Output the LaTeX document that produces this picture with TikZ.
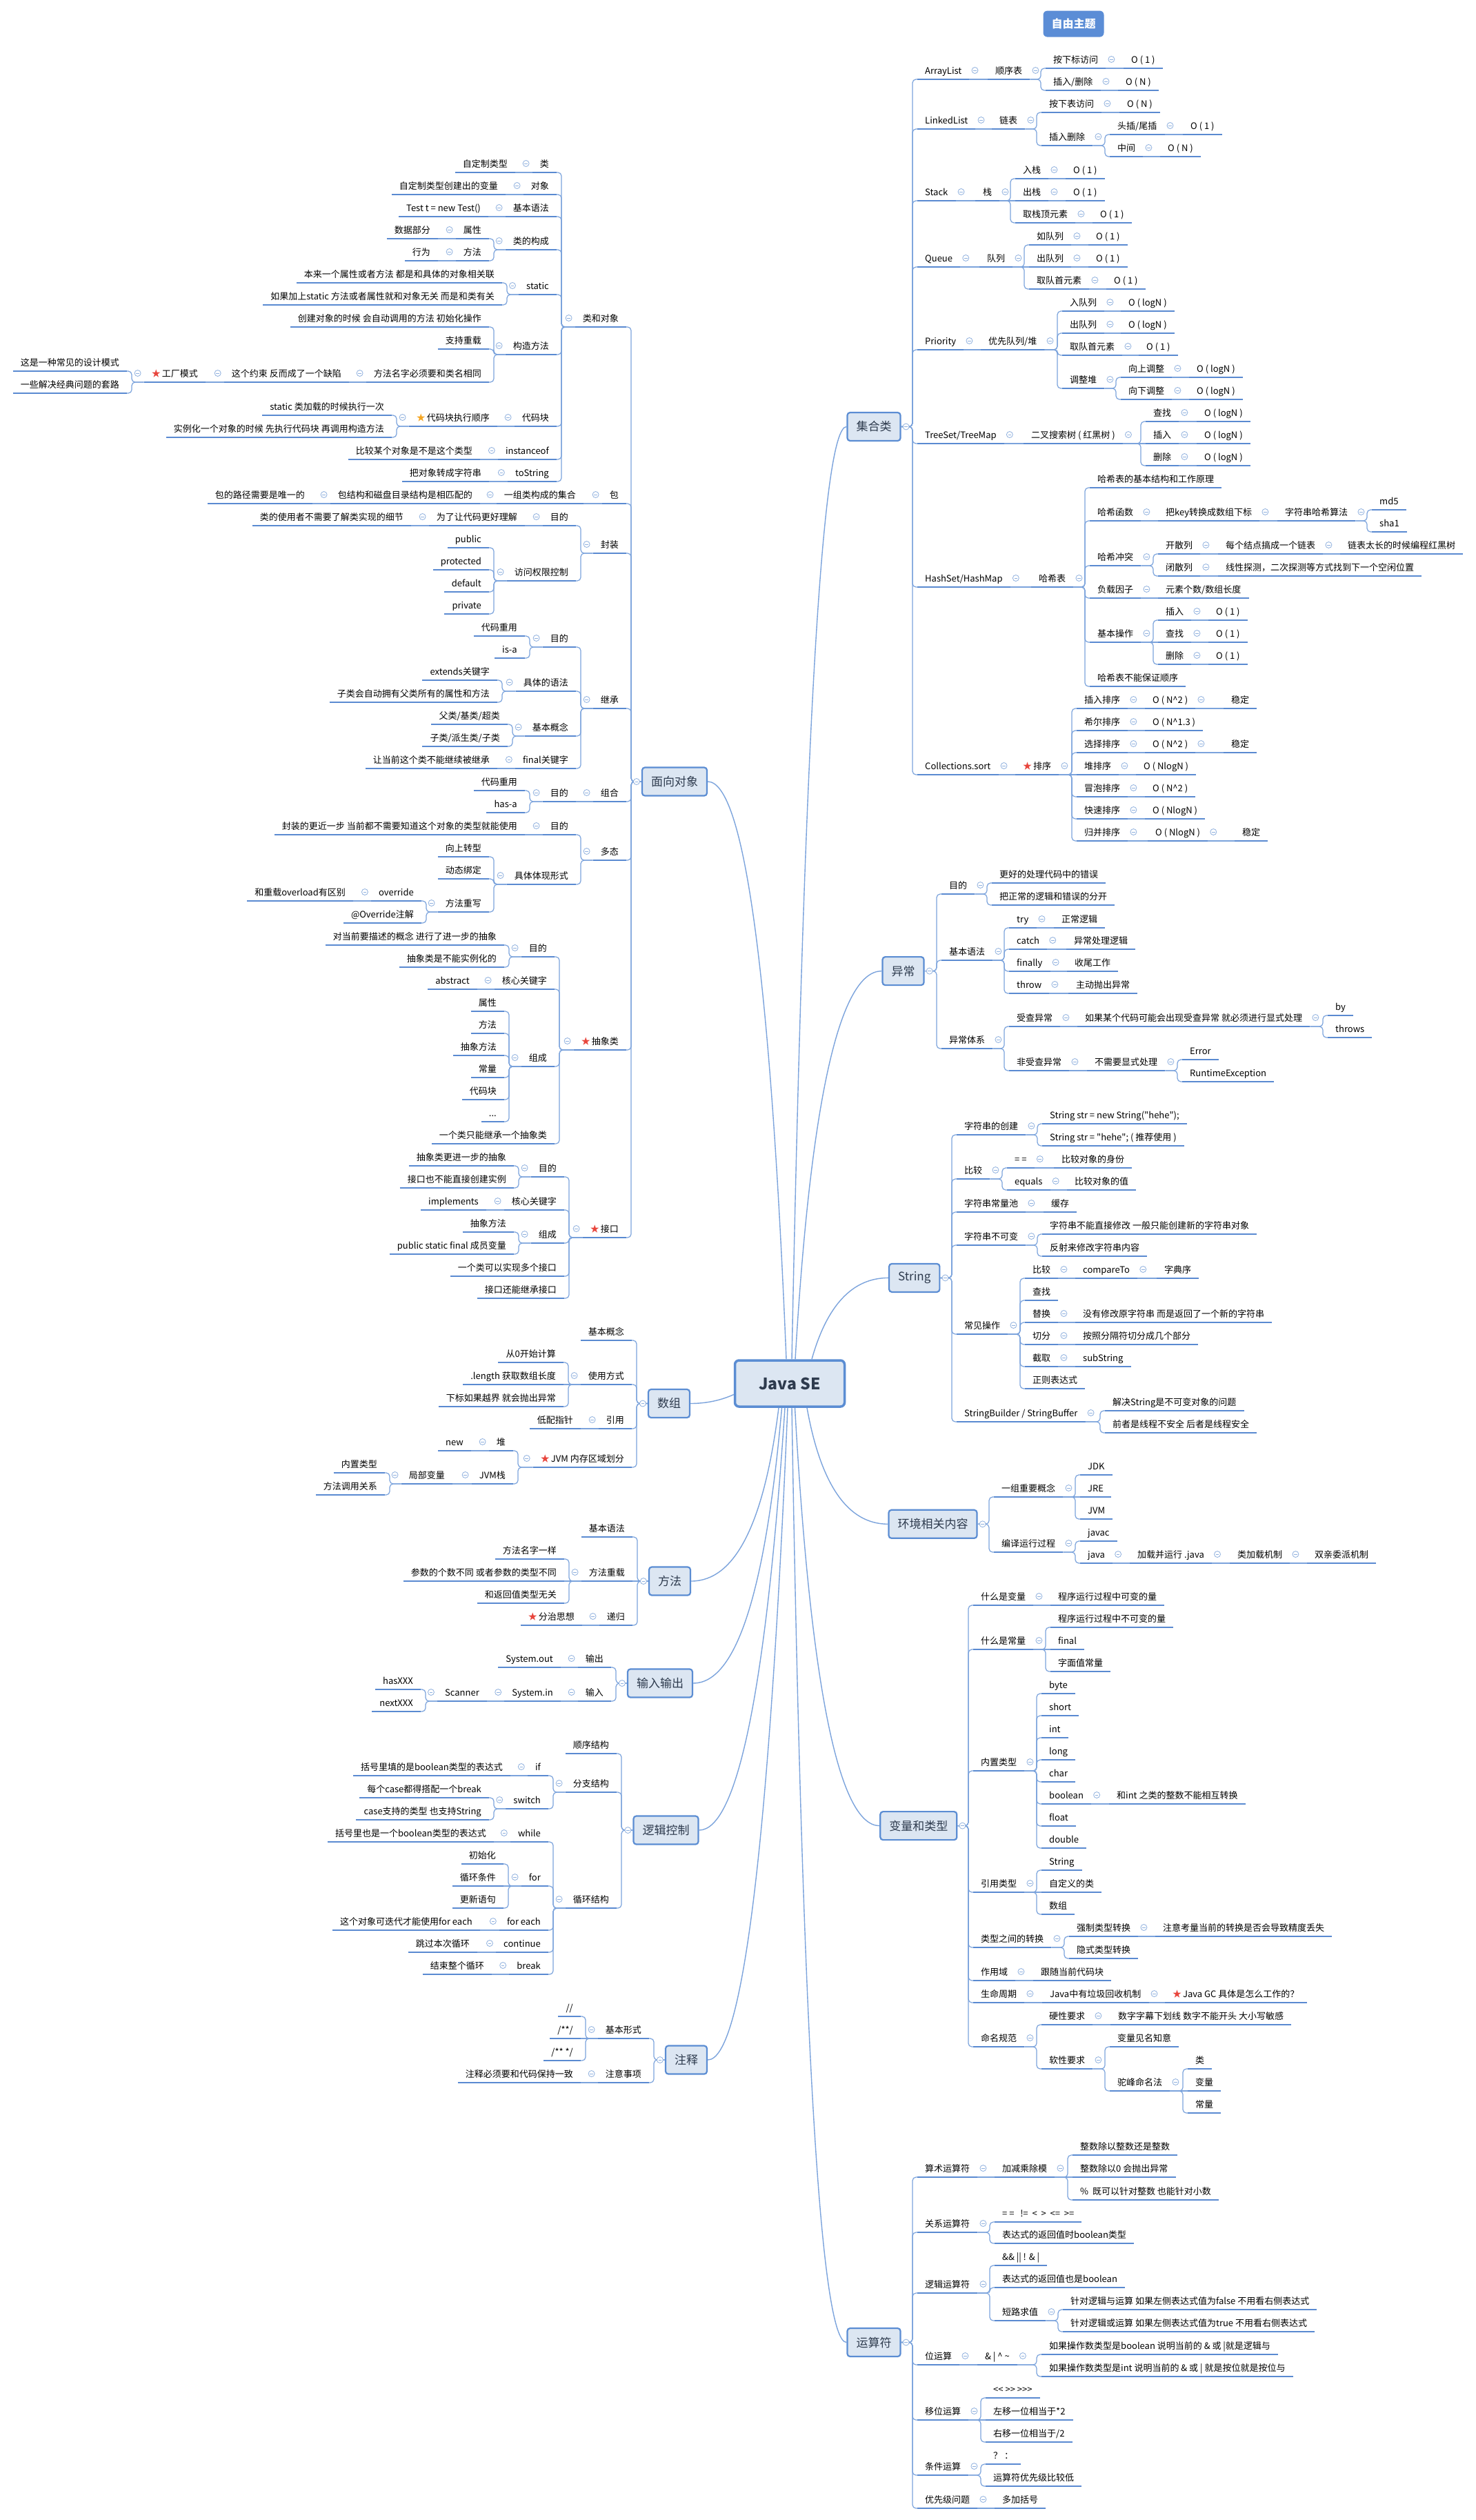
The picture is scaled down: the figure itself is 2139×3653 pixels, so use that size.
\documentclass[tikz,border=0pt]{standalone}
\usepackage{fontspec}
\setmainfont{Noto Sans CJK SC}[Ligatures=TeXOff]

\newcommand{\hot}{{\color{starRed}★}\hspace{2pt}}
\newcommand{\warm}{{\color{starOrange}★}\hspace{2pt}}

\begin{document}
\begin{tikzpicture}[x=1pt, y=-1pt,
    leaf/.style={font=\fontsize{13}{15}\selectfont, inner xsep=11pt, inner ysep=4.5pt,
        text height=10pt, text depth=3pt,
        append after command={(\tikzlastnode.south west) edge[bar] (\tikzlastnode.south east)}},
    rt/.style={leaf, anchor=south west},
    lt/.style={leaf, anchor=south east},
    bar/.style={draw=barColour, line width=2.5pt},
    topic/.style={draw=boxBorder, line width=2.2pt, fill=boxFill, rounded corners=4pt, text=boxText,
        font=\fontsize{17}{20}\selectfont, inner xsep=13pt, minimum height=41pt},
    root/.style={draw=boxBorder, line width=3.5pt, fill=boxFill, rounded corners=6pt, text=boxText,
        font=\fontsize{23}{28}\selectfont\bfseries, minimum width=159pt, minimum height=67pt},
    free/.style={fill=freeFill, rounded corners=6pt, text=white,
        font=\fontsize{16}{20}\selectfont\bfseries, inner xsep=12pt, minimum height=38pt},
    twig/.style={draw=lineColour, line width=1.2pt, rounded corners=5pt},
    trunk/.style={draw=lineColour, line width=1.4pt},
    fanR/.style={to path={-| ([xshift=-7pt]\tikztotarget) -- (\tikztotarget)}},
    fanL/.style={to path={-| ([xshift=7pt]\tikztotarget) -- (\tikztotarget)}},
    fold/.pic={\draw[foldColour, fill=white, line width=0.8pt] (0,0) circle (4.5pt);
        \draw[foldColour, line width=0.8pt] (-2.3pt,0) -- (2.3pt,0);}
]
    % Define colours
    \definecolor{barColour}{HTML}{5A8AD1}
    \definecolor{lineColour}{HTML}{7BA3DC}
    \definecolor{boxFill}{HTML}{DCE6F2}
    \definecolor{boxBorder}{HTML}{5B8DD3}
    \definecolor{boxText}{HTML}{2E3B4E}
    \definecolor{freeFill}{HTML}{5B8DD6}
    \definecolor{foldColour}{HTML}{8FB0DE}
    \definecolor{starRed}{HTML}{E8453C}
    \definecolor{starOrange}{HTML}{F5A623}

    % Page
    \useasboundingbox[fill=white] (0,0) rectangle (2139,3653);

    % Centre and floating topic
    \node[root] (java) at (1145,2005.5) {Java SE};
    \node[free] (free) at (1556.5,34.6) {自由主题};

    % ---------------- left side ----------------
    % 面向对象
    \node[topic] (oop) at (978,1133) {面向对象};
    \node[lt] (oopA) at (908,474) {类和对象};
    \node[lt] (oopB) at (908,730) {包};
    \node[lt] (oopC) at (908,802) {封装};
    \node[lt] (oopD) at (908,1027) {继承};
    \node[lt] (oopE) at (908,1162) {组合};
    \node[lt] (oopF) at (908,1247) {多态};
    \node[lt] (oopG) at (908,1522) {\hot 抽象类};
    \node[lt] (oopH) at (908,1794) {\hot 接口};

    \node[lt] (oopA1) at (807,250) {类};
    \node[lt] (oopA1a) at (747,250) {自定制类型};
    \node[lt] (oopA2) at (807,282) {对象};
    \node[lt] (oopA2a) at (733,282) {自定制类型创建出的变量};
    \node[lt] (oopA3) at (807,314) {基本语法};
    \node[lt] (oopA3a) at (708,314) {Test t = new Test()};
    \node[lt] (oopA4) at (807,362) {类的构成};
    \node[lt] (oopA4a) at (709,346) {属性};
    \node[lt] (oopA4a1) at (635,346) {数据部分};
    \node[lt] (oopA4b) at (709,378) {方法};
    \node[lt] (oopA4b1) at (635,378) {行为};
    \node[lt] (oopA5) at (807,427) {static};
    \node[lt] (oopA5a) at (728,410) {本来一个属性或者方法 都是和具体的对象相关联};
    \node[lt] (oopA5b) at (728,442) {如果加上static 方法或者属性就和对象无关 而是和类有关};
    \node[lt] (oopA6) at (807,514) {构造方法};
    \node[lt] (oopA6a) at (709,474) {创建对象的时候 会自动调用的方法 初始化操作};
    \node[lt] (oopA6b) at (709,506) {支持重载};
    \node[lt] (oopA6c) at (709,554) {方法名字必须要和类名相同};
    \node[lt] (oopA6d) at (506,554) {这个约束 反而成了一个缺陷};
    \node[lt] (oopA6e) at (298,554) {\hot 工厂模式};
    \node[lt] (oopA6e1) at (184,538) {这是一种常见的设计模式};
    \node[lt] (oopA6e2) at (184,570) {一些解决经典问题的套路};
    \node[lt] (oopA7) at (807,618) {代码块};
    \node[lt] (oopA7a) at (721,618) {\warm 代码块执行顺序};
    \node[lt] (oopA7a1) at (568,602) {static 类加载的时候执行一次};
    \node[lt] (oopA7a2) at (568,634) {实例化一个对象的时候 先执行代码块 再调用构造方法};
    \node[lt] (oopA8) at (807,666) {instanceof};
    \node[lt] (oopA8a) at (696,666) {比较某个对象是不是这个类型};
    \node[lt] (oopA9) at (807,698) {toString};
    \node[lt] (oopA9a) at (709,698) {把对象转成字符串};

    \node[lt] (oopB1) at (846,730) {一组类构成的集合};
    \node[lt] (oopB2) at (696,730) {包结构和磁盘目录结构是相匹配的};
    \node[lt] (oopB3) at (453,730) {包的路径需要是唯一的};

    \node[lt] (oopC1) at (835,762) {目的};
    \node[lt] (oopC1a) at (761,762) {为了让代码更好理解};
    \node[lt] (oopC1b) at (596,762) {类的使用者不需要了解类实现的细节};
    \node[lt] (oopC2) at (835,842) {访问权限控制};
    \node[lt] (oopC2a) at (709,794) {public};
    \node[lt] (oopC2b) at (709,826) {protected};
    \node[lt] (oopC2c) at (709,858) {default};
    \node[lt] (oopC2d) at (709,890) {private};

    \node[lt] (oopD1) at (835,938) {目的};
    \node[lt] (oopD1a) at (761,922) {代码重用};
    \node[lt] (oopD1b) at (761,954) {is-a};
    \node[lt] (oopD2) at (835,1002) {具体的语法};
    \node[lt] (oopD2a) at (721,986) {extends关键字};
    \node[lt] (oopD2b) at (721,1018) {子类会自动拥有父类所有的属性和方法};
    \node[lt] (oopD3) at (835,1067) {基本概念};
    \node[lt] (oopD3a) at (736,1050) {父类/基类/超类};
    \node[lt] (oopD3b) at (736,1082) {子类/派生类/子类};
    \node[lt] (oopD4) at (835,1114) {final关键字};
    \node[lt] (oopD4a) at (721,1114) {让当前这个类不能继续被继承};

    \node[lt] (oopE1) at (835,1162) {目的};
    \node[lt] (oopE1a) at (761,1146) {代码重用};
    \node[lt] (oopE1b) at (761,1178) {has-a};

    \node[lt] (oopF1) at (835,1210) {目的};
    \node[lt] (oopF1a) at (761,1210) {封装的更近一步 当前都不需要知道这个对象的类型就能使用};
    \node[lt] (oopF2) at (835,1282) {具体体现形式};
    \node[lt] (oopF2a) at (709,1242) {向上转型};
    \node[lt] (oopF2b) at (709,1274) {动态绑定};
    \node[lt] (oopF2c) at (709,1322) {方法重写};
    \node[lt] (oopF2c1) at (611,1306) {override};
    \node[lt] (oopF2c1a) at (512,1306) {和重载overload有区别};
    \node[lt] (oopF2c2) at (611,1338) {@Override注解};

    \node[lt] (oopG1) at (804,1387) {目的};
    \node[lt] (oopG1a) at (731,1370) {对当前要描述的概念 进行了进一步的抽象};
    \node[lt] (oopG1b) at (731,1402) {抽象类是不能实例化的};
    \node[lt] (oopG2) at (804,1434) {核心关键字};
    \node[lt] (oopG2a) at (692,1434) {abstract};
    \node[lt] (oopG3) at (804,1546) {组成};
    \node[lt] (oopG3a) at (731,1466) {属性};
    \node[lt] (oopG3b) at (731,1498) {方法};
    \node[lt] (oopG3c) at (731,1530) {抽象方法};
    \node[lt] (oopG3d) at (731,1562) {常量};
    \node[lt] (oopG3e) at (731,1594) {代码块};
    \node[lt] (oopG3f) at (731,1626) {...};
    \node[lt] (oopG4) at (804,1658) {一个类只能继承一个抽象类};

    \node[lt] (oopH1) at (818,1706) {目的};
    \node[lt] (oopH1a) at (745,1690) {抽象类更进一步的抽象};
    \node[lt] (oopH1b) at (745,1722) {接口也不能直接创建实例};
    \node[lt] (oopH2) at (818,1754) {核心关键字};
    \node[lt] (oopH2a) at (705,1754) {implements};
    \node[lt] (oopH3) at (818,1802) {组成};
    \node[lt] (oopH3a) at (745,1786) {抽象方法};
    \node[lt] (oopH3b) at (745,1818) {public static final 成员变量};
    \node[lt] (oopH4) at (818,1850) {一个类可以实现多个接口};
    \node[lt] (oopH5) at (818,1882) {接口还能继承接口};

    % 数组
    \node[topic] (arr) at (970,2034.5) {数组};
    \node[lt] (arrA) at (916,1943) {基本概念};
    \node[lt] (arrB) at (916,2007) {使用方式};
    \node[lt] (arrB1) at (817,1975) {从0开始计算};
    \node[lt] (arrB2) at (817,2007) {.length 获取数组长度};
    \node[lt] (arrB3) at (817,2039) {下标如果越界 就会抛出异常};
    \node[lt] (arrC) at (916,2071) {引用};
    \node[lt] (arrC1) at (842,2071) {低配指针};
    \node[lt] (arrD) at (916,2127) {\hot JVM 内存区域划分};
    \node[lt] (arrD1) at (744,2103) {堆};
    \node[lt] (arrD1a) at (683,2103) {new};
    \node[lt] (arrD2) at (744,2151) {JVM栈};
    \node[lt] (arrD2a) at (656,2151) {局部变量};
    \node[lt] (arrD2a1) at (558,2135) {内置类型};
    \node[lt] (arrD2a2) at (558,2167) {方法调用关系};

    % 方法
    \node[topic] (meth) at (971,2292) {方法};
    \node[lt] (methA) at (917,2228) {基本语法};
    \node[lt] (methB) at (917,2292) {方法重载};
    \node[lt] (methB1) at (818,2260) {方法名字一样};
    \node[lt] (methB2) at (818,2292) {参数的个数不同 或者参数的类型不同};
    \node[lt] (methB3) at (818,2324) {和返回值类型无关};
    \node[lt] (methC) at (917,2356) {递归};
    \node[lt] (methC1) at (844,2356) {\hot 分治思想};

    % 输入输出
    \node[topic] (io) at (957,2440) {输入输出};
    \node[lt] (ioA) at (886,2417) {输出};
    \node[lt] (ioA1) at (813,2417) {System.out};
    \node[lt] (ioB) at (886,2466) {输入};
    \node[lt] (ioB1) at (813,2466) {System.in};
    \node[lt] (ioB2) at (706,2466) {Scanner};
    \node[lt] (ioB2a) at (610,2449) {hasXXX};
    \node[lt] (ioB2b) at (610,2481) {nextXXX};

    % 逻辑控制
    \node[topic] (ctrl) at (965.5,2653) {逻辑控制};
    \node[lt] (ctrlA) at (894,2542) {顺序结构};
    \node[lt] (ctrlB) at (894,2598) {分支结构};
    \node[lt] (ctrlB1) at (795,2574) {if};
    \node[lt] (ctrlB1a) at (740,2574) {括号里填的是boolean类型的表达式};
    \node[lt] (ctrlB2) at (795,2622) {switch};
    \node[lt] (ctrlB2a) at (709,2606) {每个case都得搭配一个break};
    \node[lt] (ctrlB2b) at (709,2638) {case支持的类型 也支持String};
    \node[lt] (ctrlC) at (894,2766) {循环结构};
    \node[lt] (ctrlC1) at (795,2670) {while};
    \node[lt] (ctrlC1a) at (716,2670) {括号里也是一个boolean类型的表达式};
    \node[lt] (ctrlC2) at (795,2734) {for};
    \node[lt] (ctrlC2a) at (730,2702) {初始化};
    \node[lt] (ctrlC2b) at (730,2734) {循环条件};
    \node[lt] (ctrlC2c) at (730,2766) {更新语句};
    \node[lt] (ctrlC3) at (795,2798) {for each};
    \node[lt] (ctrlC3a) at (696,2798) {这个对象可迭代才能使用for each};
    \node[lt] (ctrlC4) at (795,2830) {continue};
    \node[lt] (ctrlC4a) at (692,2830) {跳过本次循环};
    \node[lt] (ctrlC5) at (795,2862) {break};
    \node[lt] (ctrlC5a) at (713,2862) {结束整个循环};

    % 注释
    \node[topic] (cmt) at (995,2986) {注释};
    \node[lt] (cmtA) at (941,2955) {基本形式};
    \node[lt] (cmtA1) at (842,2923) {//};
    \node[lt] (cmtA2) at (842,2955) {/**/};
    \node[lt] (cmtA3) at (842,2987) {/** */};
    \node[lt] (cmtB) at (941,3019) {注意事项};
    \node[lt] (cmtB1) at (842,3019) {注释必须要和代码保持一致};

    % ---------------- right side ----------------
    % 集合类
    \node[topic] (coll) at (1267,618.5) {集合类};
    \node[rt] (collA) at (1330,115) {ArrayList};
    \node[rt] (collA1) at (1432,115) {顺序表};
    \node[rt] (collA1a) at (1516,99) {按下标访问};
    \node[rt] (collA1a1) at (1629,99) {O ( 1 )};
    \node[rt] (collA1b) at (1516,131) {插入/删除};
    \node[rt] (collA1b1) at (1621,131) {O ( N )};
    \node[rt] (collB) at (1330,187) {LinkedList};
    \node[rt] (collB1) at (1438,187) {链表};
    \node[rt] (collB1a) at (1510,163) {按下表访问};
    \node[rt] (collB1a1) at (1623,163) {O ( N )};
    \node[rt] (collB1b) at (1510,211) {插入删除};
    \node[rt] (collB1b1) at (1609,195) {头插/尾插};
    \node[rt] (collB1b1a) at (1715,195) {O ( 1 )};
    \node[rt] (collB1b2) at (1609,227) {中间};
    \node[rt] (collB1b2a) at (1682,227) {O ( N )};
    \node[rt] (collC) at (1330,291) {Stack};
    \node[rt] (collC1) at (1414,291) {栈};
    \node[rt] (collC1a) at (1472,259) {入栈};
    \node[rt] (collC1a1) at (1545,259) {O ( 1 )};
    \node[rt] (collC1b) at (1472,291) {出栈};
    \node[rt] (collC1b1) at (1545,291) {O ( 1 )};
    \node[rt] (collC1c) at (1472,323) {取栈顶元素};
    \node[rt] (collC1c1) at (1584,323) {O ( 1 )};
    \node[rt] (collD) at (1330,387) {Queue};
    \node[rt] (collD1) at (1420,387) {队列};
    \node[rt] (collD1a) at (1492,355) {如队列};
    \node[rt] (collD1a1) at (1578,355) {O ( 1 )};
    \node[rt] (collD1b) at (1492,387) {出队列};
    \node[rt] (collD1b1) at (1578,387) {O ( 1 )};
    \node[rt] (collD1c) at (1492,419) {取队首元素};
    \node[rt] (collD1c1) at (1604,419) {O ( 1 )};
    \node[rt] (collE) at (1330,507) {Priority};
    \node[rt] (collE1) at (1422,507) {优先队列/堆};
    \node[rt] (collE1a) at (1540,451) {入队列};
    \node[rt] (collE1a1) at (1625,451) {O ( logN )};
    \node[rt] (collE1b) at (1540,483) {出队列};
    \node[rt] (collE1b1) at (1625,483) {O ( logN )};
    \node[rt] (collE1c) at (1540,515) {取队首元素};
    \node[rt] (collE1c1) at (1651,515) {O ( 1 )};
    \node[rt] (collE1d) at (1540,563) {调整堆};
    \node[rt] (collE1d1) at (1625,547) {向上调整};
    \node[rt] (collE1d1a) at (1724,547) {O ( logN )};
    \node[rt] (collE1d2) at (1625,579) {向下调整};
    \node[rt] (collE1d2a) at (1724,579) {O ( logN )};
    \node[rt] (collF) at (1330,643) {TreeSet/TreeMap};
    \node[rt] (collF1) at (1484,643) {二叉搜索树 ( 红黑树 )};
    \node[rt] (collF1a) at (1661,611) {查找};
    \node[rt] (collF1a1) at (1735,611) {O ( logN )};
    \node[rt] (collF1b) at (1661,643) {插入};
    \node[rt] (collF1b1) at (1735,643) {O ( logN )};
    \node[rt] (collF1c) at (1661,675) {删除};
    \node[rt] (collF1c1) at (1735,675) {O ( logN )};
    \node[rt] (collG) at (1330,851) {HashSet/HashMap};
    \node[rt] (collG1) at (1495,851) {哈希表};
    \node[rt] (collG1a) at (1580,707) {哈希表的基本结构和工作原理};
    \node[rt] (collG1b) at (1580,755) {哈希函数};
    \node[rt] (collG1b1) at (1679,755) {把key转换成数组下标};
    \node[rt] (collG1b2) at (1852,755) {字符串哈希算法};
    \node[rt] (collG1b2a) at (1989,739) {md5};
    \node[rt] (collG1b2b) at (1989,771) {sha1};
    \node[rt] (collG1c) at (1580,820) {哈希冲突};
    \node[rt] (collG1c1) at (1679,803) {开散列};
    \node[rt] (collG1c1a) at (1766,803) {每个结点搞成一个链表};
    \node[rt] (collG1c1b) at (1943,803) {链表太长的时候编程红黑树};
    \node[rt] (collG1c2) at (1679,835) {闭散列};
    \node[rt] (collG1c2a) at (1766,835) {线性探测，二次探测等方式找到下一个空闲位置};
    \node[rt] (collG1d) at (1580,867) {负载因子};
    \node[rt] (collG1d1) at (1679,867) {元素个数/数组长度};
    \node[rt] (collG1e) at (1580,931) {基本操作};
    \node[rt] (collG1e1) at (1679,899) {插入};
    \node[rt] (collG1e1a) at (1752,899) {O ( 1 )};
    \node[rt] (collG1e2) at (1679,931) {查找};
    \node[rt] (collG1e2a) at (1752,931) {O ( 1 )};
    \node[rt] (collG1e3) at (1679,963) {删除};
    \node[rt] (collG1e3a) at (1752,963) {O ( 1 )};
    \node[rt] (collG1f) at (1580,995) {哈希表不能保证顺序};
    \node[rt] (collH) at (1330,1123) {Collections.sort};
    \node[rt] (collH1) at (1472,1123) {\hot 排序};
    \node[rt] (collH1a) at (1561,1027) {插入排序};
    \node[rt] (collH1a1) at (1660,1027) {O ( N\textasciicircum 2 )};
    \node[rt] (collH1a2) at (1774,1027) {稳定};
    \node[rt] (collH1b) at (1561,1059) {希尔排序};
    \node[rt] (collH1b1) at (1660,1059) {O ( N\textasciicircum 1.3 )};
    \node[rt] (collH1c) at (1561,1091) {选择排序};
    \node[rt] (collH1c1) at (1660,1091) {O ( N\textasciicircum 2 )};
    \node[rt] (collH1c2) at (1774,1091) {稳定};
    \node[rt] (collH1d) at (1561,1123) {堆排序};
    \node[rt] (collH1d1) at (1647,1123) {O ( NlogN )};
    \node[rt] (collH1e) at (1561,1155) {冒泡排序};
    \node[rt] (collH1e1) at (1660,1155) {O ( N\textasciicircum 2 )};
    \node[rt] (collH1f) at (1561,1187) {快速排序};
    \node[rt] (collH1f1) at (1660,1187) {O ( NlogN )};
    \node[rt] (collH1g) at (1561,1219) {归并排序};
    \node[rt] (collH1g1) at (1664,1219) {O ( NlogN )};
    \node[rt] (collH1g2) at (1790,1219) {稳定};

    % 异常
    \node[topic] (exc) at (1309.5,1407.6) {异常};
    \node[rt] (excA) at (1365,1296) {目的};
    \node[rt] (excA1) at (1438,1280) {更好的处理代码中的错误};
    \node[rt] (excA2) at (1438,1312) {把正常的逻辑和错误的分开};
    \node[rt] (excB) at (1365,1392) {基本语法};
    \node[rt] (excB1) at (1463,1345) {try};
    \node[rt] (excB1a) at (1528,1345) {正常逻辑};
    \node[rt] (excB2) at (1463,1376) {catch};
    \node[rt] (excB2a) at (1546,1376) {异常处理逻辑};
    \node[rt] (excB3) at (1463,1408) {finally};
    \node[rt] (excB3a) at (1547,1408) {收尾工作};
    \node[rt] (excB4) at (1463,1440) {throw};
    \node[rt] (excB4a) at (1549,1440) {主动抛出异常};
    \node[rt] (excC) at (1365,1520) {异常体系};
    \node[rt] (excC1) at (1463,1488) {受查异常};
    \node[rt] (excC1a) at (1562,1488) {如果某个代码可能会出现受查异常 就必须进行显式处理};
    \node[rt] (excC1a1) at (1925,1472) {by};
    \node[rt] (excC1a2) at (1925,1504) {throws};
    \node[rt] (excC2) at (1463,1552) {非受查异常};
    \node[rt] (excC2a) at (1576,1552) {不需要显式处理};
    \node[rt] (excC2a1) at (1714,1536) {Error};
    \node[rt] (excC2a2) at (1714,1568) {RuntimeException};

    % String
    \node[topic] (str) at (1325.7,1852.4) {String};
    \node[rt] (strA) at (1387,1645) {字符串的创建};
    \node[rt] (strA1) at (1511,1629) {String str = new String("hehe");};
    \node[rt] (strA2) at (1511,1661) {String str = "hehe"; ( 推荐使用 )};
    \node[rt] (strB) at (1387,1709) {比较};
    \node[rt] (strB1) at (1460,1693) {= =};
    \node[rt] (strB1a) at (1528,1693) {比较对象的身份};
    \node[rt] (strB2) at (1460,1725) {equals};
    \node[rt] (strB2a) at (1547,1725) {比较对象的值};
    \node[rt] (strC) at (1387,1757) {字符串常量池};
    \node[rt] (strC1) at (1513,1757) {缓存};
    \node[rt] (strD) at (1387,1805) {字符串不可变};
    \node[rt] (strD1) at (1511,1789) {字符串不能直接修改 一般只能创建新的字符串对象};
    \node[rt] (strD2) at (1511,1821) {反射来修改字符串内容};
    \node[rt] (strE) at (1387,1934) {常见操作};
    \node[rt] (strE1) at (1486,1853) {比较};
    \node[rt] (strE1a) at (1559,1853) {compareTo};
    \node[rt] (strE1b) at (1677,1853) {字典序};
    \node[rt] (strE2) at (1486,1885) {查找};
    \node[rt] (strE3) at (1486,1917) {替换};
    \node[rt] (strE3a) at (1559,1917) {没有修改原字符串 而是返回了一个新的字符串};
    \node[rt] (strE4) at (1486,1949) {切分};
    \node[rt] (strE4a) at (1559,1949) {按照分隔符切分成几个部分};
    \node[rt] (strE5) at (1486,1981) {截取};
    \node[rt] (strE5a) at (1559,1981) {subString};
    \node[rt] (strE6) at (1486,2013) {正则表达式};
    \node[rt] (strF) at (1387,2061) {StringBuilder / StringBuffer};
    \node[rt] (strF1) at (1602,2045) {解决String是不可变对象的问题};
    \node[rt] (strF2) at (1602,2077) {前者是线程不安全 后者是线程安全};

    % 环境相关内容
    \node[topic] (env) at (1352.5,2209.3) {环境相关内容};
    \node[rt] (envA) at (1441,2170) {一组重要概念};
    \node[rt] (envA1) at (1566,2138) {JDK};
    \node[rt] (envA2) at (1566,2170) {JRE};
    \node[rt] (envA3) at (1566,2202) {JVM};
    \node[rt] (envB) at (1441,2250) {编译运行过程};
    \node[rt] (envB1) at (1566,2234) {javac};
    \node[rt] (envB2) at (1566,2266) {java};
    \node[rt] (envB2a) at (1638,2266) {加载并运行 .java};
    \node[rt] (envB2b) at (1783,2266) {类加载机制};
    \node[rt] (envB2c) at (1895,2266) {双亲委派机制};

    % 变量和类型
    \node[topic] (var) at (1331.8,2646.6) {变量和类型};
    \node[rt] (varA) at (1411,2327) {什么是变量};
    \node[rt] (varA1) at (1523,2327) {程序运行过程中可变的量};
    \node[rt] (varB) at (1411,2391) {什么是常量};
    \node[rt] (varB1) at (1523,2359) {程序运行过程中不可变的量};
    \node[rt] (varB2) at (1523,2391) {final};
    \node[rt] (varB3) at (1523,2423) {字面值常量};
    \node[rt] (varC) at (1411,2567) {内置类型};
    \node[rt] (varC1) at (1510,2455) {byte};
    \node[rt] (varC2) at (1510,2487) {short};
    \node[rt] (varC3) at (1510,2519) {int};
    \node[rt] (varC4) at (1510,2551) {long};
    \node[rt] (varC5) at (1510,2583) {char};
    \node[rt] (varC6) at (1510,2615) {boolean};
    \node[rt] (varC6a) at (1608,2615) {和int 之类的整数不能相互转换};
    \node[rt] (varC7) at (1510,2647) {float};
    \node[rt] (varC8) at (1510,2679) {double};
    \node[rt] (varD) at (1411,2743) {引用类型};
    \node[rt] (varD1) at (1510,2711) {String};
    \node[rt] (varD2) at (1510,2743) {自定义的类};
    \node[rt] (varD3) at (1510,2775) {数组};
    \node[rt] (varE) at (1411,2823) {类型之间的转换};
    \node[rt] (varE1) at (1550,2807) {强制类型转换};
    \node[rt] (varE1a) at (1675,2807) {注意考量当前的转换是否会导致精度丢失};
    \node[rt] (varE2) at (1550,2839) {隐式类型转换};
    \node[rt] (varF) at (1411,2871) {作用域};
    \node[rt] (varF1) at (1498,2871) {跟随当前代码块};
    \node[rt] (varG) at (1411,2903) {生命周期};
    \node[rt] (varG1) at (1511,2903) {Java中有垃圾回收机制};
    \node[rt] (varG2) at (1689,2903) {\hot Java GC 具体是怎么工作的？};
    \node[rt] (varH) at (1411,2967) {命名规范};
    \node[rt] (varH1) at (1510,2935) {硬性要求};
    \node[rt] (varH1a) at (1610,2935) {数字字幕下划线 数字不能开头 大小写敏感};
    \node[rt] (varH2) at (1510,2999) {软性要求};
    \node[rt] (varH2a) at (1609,2967) {变量见名知意};
    \node[rt] (varH2b) at (1609,3031) {驼峰命名法};
    \node[rt] (varH2b1) at (1722,2999) {类};
    \node[rt] (varH2b2) at (1722,3031) {变量};
    \node[rt] (varH2b3) at (1722,3063) {常量};

    % 运算符
    \node[topic] (op) at (1267,3395.5) {运算符};
    \node[rt] (opA) at (1330,3156) {算术运算符};
    \node[rt] (opA1) at (1442,3156) {加减乘除模};
    \node[rt] (opA1a) at (1555,3124) {整数除以整数还是整数};
    \node[rt] (opA1b) at (1555,3156) {整数除以0 会抛出异常};
    \node[rt] (opA1c) at (1555,3189) {\%\ \ 既可以针对整数 也能针对小数};
    \node[rt] (opB) at (1330,3236) {关系运算符};
    \node[rt] (opB1) at (1442,3221) {= =\ \ \ !=\ \ \textless\ \ \textgreater\ \ \textless=\ \ \textgreater=};
    \node[rt] (opB2) at (1442,3252) {表达式的返回值时boolean类型};
    \node[rt] (opC) at (1330,3324) {逻辑运算符};
    \node[rt] (opC1) at (1442,3284) {\&\& || ! \& |};
    \node[rt] (opC2) at (1442,3316) {表达式的返回值也是boolean};
    \node[rt] (opC3) at (1442,3364) {短路求值};
    \node[rt] (opC3a) at (1541,3348) {针对逻辑与运算 如果左侧表达式值为false 不用看右侧表达式};
    \node[rt] (opC3b) at (1541,3380) {针对逻辑或运算 如果左侧表达式值为true 不用看右侧表达式};
    \node[rt] (opD) at (1330,3428) {位运算};
    \node[rt] (opD1) at (1417,3428) {\& | \textasciicircum\ \textasciitilde};
    \node[rt] (opD1a) at (1510,3413) {如果操作数类型是boolean 说明当前的 \& 或 |就是逻辑与};
    \node[rt] (opD1b) at (1510,3445) {如果操作数类型是int 说明当前的 \& 或 | 就是按位就是按位与};
    \node[rt] (opE) at (1330,3508) {移位运算};
    \node[rt] (opE1) at (1429,3476) {\textless\textless\ \textgreater\textgreater\ \textgreater\textgreater\textgreater};
    \node[rt] (opE2) at (1429,3508) {左移一位相当于*2};
    \node[rt] (opE3) at (1429,3540) {右移一位相当于/2};
    \node[rt] (opF) at (1330,3588) {条件运算};
    \node[rt] (opF1) at (1429,3572) {？ ：};
    \node[rt] (opF2) at (1429,3604) {运算符优先级比较低};
    \node[rt] (opG) at (1330,3636) {优先级问题};
    \node[rt] (opG1) at (1442,3636) {多加括号};

    % Draw trunks from the centre
    \draw[trunk] ([xshift=3pt]java.north) .. controls (1166,1070) and (1192,618.5) .. (coll.west);
    \draw[trunk] ([xshift=8pt]java.north) .. controls (1175,1596) and (1217,1407.6) .. (exc.west);
    \draw[trunk] ([xshift=32pt]java.north) .. controls (1199,1892) and (1236,1852.4) .. (str.west);
    \draw[trunk] ([xshift=25pt]java.south) .. controls (1190,2152) and (1229,2209.3) .. (env.west);
    \draw[trunk] ([xshift=7.5pt]java.south) .. controls (1175,2444) and (1216,2646.6) .. (var.west);
    \draw[trunk] ([xshift=3pt]java.south) .. controls (1163,2943) and (1189,3395.5) .. (op.west);
    \draw[trunk] ([xshift=-5pt]java.north) .. controls (1117,1413) and (1079,1133) .. (oop.east);
    \draw[trunk] ([yshift=-16pt]java.west) .. controls (1045,2030) and (1024,2034.5) .. (arr.east);
    \draw[trunk] ([xshift=-16pt]java.south) .. controls (1108,2208) and (1066,2292) .. (meth.east);
    \draw[trunk] ([xshift=-11.5pt]java.south) .. controls (1110,2306) and (1068,2440) .. (io.east);
    \draw[trunk] ([xshift=-7pt]java.south) .. controls (1111,2448) and (1069,2653) .. (ctrl.east);
    \draw[trunk] ([xshift=-3pt]java.south) .. controls (1115,2670) and (1077,2986) .. (cmt.east);

    % Draw branches of the left side
    \foreach \p/\c in {oop/oopA, oop/oopB, oop/oopC, oop/oopD, oop/oopE, oop/oopF, oop/oopG, oop/oopH,
        arr/arrA, arr/arrB, arr/arrC, arr/arrD, meth/methA, meth/methC, io/ioA, io/ioB,
        ctrl/ctrlA, ctrl/ctrlB, ctrl/ctrlC, cmt/cmtA, cmt/cmtB}
        \draw[twig] (\p.west) to[fanL] (\c.south east);
    \draw[twig] (meth.west) -- (methB.south east);

    \foreach \p/\c in {oopA/oopA1, oopA/oopA2, oopA/oopA3, oopA/oopA4, oopA/oopA5, oopA/oopA6,
        oopA/oopA7, oopA/oopA8, oopA/oopA9, oopA4/oopA4a, oopA4/oopA4b, oopA5/oopA5a, oopA5/oopA5b,
        oopA6/oopA6a, oopA6/oopA6b, oopA6/oopA6c, oopA6e/oopA6e1, oopA6e/oopA6e2,
        oopA7a/oopA7a1, oopA7a/oopA7a2, oopC/oopC1, oopC/oopC2, oopC2/oopC2a, oopC2/oopC2b,
        oopC2/oopC2c, oopC2/oopC2d, oopD/oopD1, oopD/oopD2, oopD/oopD3, oopD/oopD4,
        oopD1/oopD1a, oopD1/oopD1b, oopD2/oopD2a, oopD2/oopD2b, oopD3/oopD3a, oopD3/oopD3b,
        oopE1/oopE1a, oopE1/oopE1b, oopF/oopF1, oopF/oopF2, oopF2/oopF2a, oopF2/oopF2b,
        oopF2/oopF2c, oopF2c/oopF2c1, oopF2c/oopF2c2, oopG/oopG1, oopG/oopG2, oopG/oopG3,
        oopG/oopG4, oopG1/oopG1a, oopG1/oopG1b, oopG3/oopG3a, oopG3/oopG3b, oopG3/oopG3c,
        oopG3/oopG3d, oopG3/oopG3e, oopG3/oopG3f, oopH/oopH1, oopH/oopH2, oopH/oopH3,
        oopH/oopH4, oopH/oopH5, oopH1/oopH1a, oopH1/oopH1b, oopH3/oopH3a, oopH3/oopH3b,
        arrB/arrB1, arrB/arrB3, arrD/arrD1, arrD/arrD2, arrD2a/arrD2a1, arrD2a/arrD2a2,
        methB/methB1, methB/methB3, ioB2/ioB2a, ioB2/ioB2b, ctrlB/ctrlB1, ctrlB/ctrlB2,
        ctrlB2/ctrlB2a, ctrlB2/ctrlB2b, ctrlC/ctrlC1, ctrlC/ctrlC2, ctrlC/ctrlC3, ctrlC/ctrlC4,
        ctrlC/ctrlC5, ctrlC2/ctrlC2a, ctrlC2/ctrlC2c, cmtA/cmtA1, cmtA/cmtA3}
        \draw[twig] (\p.south west) to[fanL] (\c.south east);

    \foreach \p/\c in {oopA1/oopA1a, oopA2/oopA2a, oopA3/oopA3a, oopA4a/oopA4a1, oopA4b/oopA4b1,
        oopA6c/oopA6d, oopA6d/oopA6e, oopA7/oopA7a, oopA8/oopA8a, oopA9/oopA9a, oopB/oopB1,
        oopB1/oopB2, oopB2/oopB3, oopC1/oopC1a, oopC1a/oopC1b, oopD4/oopD4a, oopE/oopE1,
        oopF1/oopF1a, oopF2c1/oopF2c1a, oopG2/oopG2a, oopH2/oopH2a, arrB/arrB2, arrC/arrC1,
        arrD1/arrD1a, arrD2/arrD2a, methB/methB2, methC/methC1, ioA/ioA1, ioB/ioB1, ioB1/ioB2,
        ctrlB1/ctrlB1a, ctrlC1/ctrlC1a, ctrlC2/ctrlC2b, ctrlC3/ctrlC3a, ctrlC4/ctrlC4a,
        ctrlC5/ctrlC5a, cmtA/cmtA2, cmtB/cmtB1}
        \draw[twig] (\p.south west) -- (\c.south east);

    % Draw branches of the right side
    \foreach \p/\c in {coll/collA, coll/collB, coll/collC, coll/collD, coll/collE, coll/collF,
        coll/collG, coll/collH, exc/excA, exc/excB, exc/excC, str/strA, str/strB, str/strC,
        str/strD, str/strE, str/strF, env/envA, env/envB, var/varA, var/varB, var/varC,
        var/varD, var/varE, var/varF, var/varG, var/varH, op/opA, op/opB, op/opC, op/opD,
        op/opE, op/opF, op/opG}
        \draw[twig] (\p.east) to[fanR] (\c.south west);

    \foreach \p/\c in {collA1/collA1a, collA1/collA1b, collB1/collB1a, collB1/collB1b,
        collB1b/collB1b1, collB1b/collB1b2, collC1/collC1a, collC1/collC1c, collD1/collD1a,
        collD1/collD1c, collE1/collE1a, collE1/collE1b, collE1/collE1c, collE1/collE1d,
        collE1d/collE1d1, collE1d/collE1d2, collF1/collF1a, collF1/collF1c, collG1/collG1a,
        collG1/collG1b, collG1/collG1c, collG1/collG1d, collG1/collG1e, collG1/collG1f,
        collG1b2/collG1b2a, collG1b2/collG1b2b, collG1c/collG1c1, collG1c/collG1c2,
        collG1e/collG1e1, collG1e/collG1e3, collH1/collH1a, collH1/collH1b, collH1/collH1c,
        collH1/collH1e, collH1/collH1f, collH1/collH1g, excA/excA1, excA/excA2, excB/excB1,
        excB/excB2, excB/excB3, excB/excB4, excC/excC1, excC/excC2, excC1a/excC1a1,
        excC1a/excC1a2, excC2a/excC2a1, excC2a/excC2a2, strA/strA1, strA/strA2, strB/strB1,
        strB/strB2, strD/strD1, strD/strD2, strE/strE1, strE/strE2, strE/strE3, strE/strE4,
        strE/strE5, strE/strE6, strF/strF1, strF/strF2, envA/envA1, envA/envA3, envB/envB1,
        envB/envB2, varB/varB1, varB/varB3, varC/varC1, varC/varC2, varC/varC3, varC/varC4,
        varC/varC5, varC/varC6, varC/varC7, varC/varC8, varD/varD1, varD/varD3, varE/varE1,
        varE/varE2, varH/varH1, varH/varH2, varH2/varH2a, varH2/varH2b, varH2b/varH2b1,
        varH2b/varH2b3, opA1/opA1a, opA1/opA1c, opB/opB1, opB/opB2, opC/opC1, opC/opC2,
        opC/opC3, opC3/opC3a, opC3/opC3b, opD1/opD1a, opD1/opD1b, opE/opE1, opE/opE3,
        opF/opF1, opF/opF2}
        \draw[twig] (\p.south east) to[fanR] (\c.south west);

    \foreach \p/\c in {collA/collA1, collA1a/collA1a1, collA1b/collA1b1, collB/collB1,
        collB1a/collB1a1, collB1b1/collB1b1a, collB1b2/collB1b2a, collC/collC1, collC1/collC1b,
        collC1a/collC1a1, collC1b/collC1b1, collC1c/collC1c1, collD/collD1, collD1/collD1b,
        collD1a/collD1a1, collD1b/collD1b1, collD1c/collD1c1, collE/collE1, collE1a/collE1a1,
        collE1b/collE1b1, collE1c/collE1c1, collE1d1/collE1d1a, collE1d2/collE1d2a,
        collF/collF1, collF1/collF1b, collF1a/collF1a1, collF1b/collF1b1, collF1c/collF1c1,
        collG/collG1, collG1b/collG1b1, collG1b1/collG1b2, collG1c1/collG1c1a,
        collG1c1a/collG1c1b, collG1c2/collG1c2a, collG1d/collG1d1, collG1e/collG1e2,
        collG1e1/collG1e1a, collG1e2/collG1e2a, collG1e3/collG1e3a, collH/collH1,
        collH1/collH1d, collH1a/collH1a1, collH1a1/collH1a2, collH1b/collH1b1,
        collH1c/collH1c1, collH1c1/collH1c2, collH1d/collH1d1, collH1e/collH1e1,
        collH1f/collH1f1, collH1g/collH1g1, collH1g1/collH1g2, excB1/excB1a, excB2/excB2a,
        excB3/excB3a, excB4/excB4a, excC1/excC1a, excC2/excC2a, strB1/strB1a, strB2/strB2a,
        strC/strC1, strE1/strE1a, strE1a/strE1b, strE3/strE3a, strE4/strE4a, strE5/strE5a,
        envA/envA2, envB2/envB2a, envB2a/envB2b, envB2b/envB2c, varA/varA1, varB/varB2,
        varC6/varC6a, varD/varD2, varE1/varE1a, varF/varF1, varG/varG1, varG1/varG2,
        varH1/varH1a, varH2b/varH2b2, opA/opA1, opA1/opA1b, opD/opD1, opE/opE2, opG/opG1}
        \draw[twig] (\p.south east) -- (\c.south west);

    % Fold marks
    \foreach \p in {oop, arr, meth, io, ctrl, cmt}
        \pic at ([xshift=-7pt]\p.west) {fold};
    \foreach \p in {coll, exc, str, env, var, op}
        \pic at ([xshift=7pt]\p.east) {fold};
    \foreach \p in {oopA, oopA1, oopA2, oopA3, oopA4, oopA4a, oopA4b, oopA5, oopA6, oopA6c,
        oopA6d, oopA6e, oopA7, oopA7a, oopA8, oopA9, oopB, oopB1, oopB2, oopC, oopC1, oopC1a,
        oopC2, oopD, oopD1, oopD2, oopD3, oopD4, oopE, oopE1, oopF, oopF1, oopF2, oopF2c,
        oopF2c1, oopG, oopG1, oopG2, oopG3, oopH, oopH1, oopH2, oopH3, arrB, arrC, arrD,
        arrD1, arrD2, arrD2a, methB, methC, ioA, ioB, ioB1, ioB2, ctrlB, ctrlB1, ctrlB2,
        ctrlC, ctrlC1, ctrlC2, ctrlC3, ctrlC4, ctrlC5, cmtA, cmtB}
        \pic at ([shift={(-9pt,13pt)}]\p.south west) {fold};
    \foreach \p in {collA, collA1, collA1a, collA1b, collB, collB1, collB1a, collB1b,
        collB1b1, collB1b2, collC, collC1, collC1a, collC1b, collC1c, collD, collD1, collD1a,
        collD1b, collD1c, collE, collE1, collE1a, collE1b, collE1c, collE1d, collE1d1,
        collE1d2, collF, collF1, collF1a, collF1b, collF1c, collG, collG1, collG1b, collG1b1,
        collG1b2, collG1c, collG1c1, collG1c1a, collG1c2, collG1d, collG1e, collG1e1,
        collG1e2, collG1e3, collH, collH1, collH1a, collH1a1, collH1b, collH1c, collH1c1,
        collH1d, collH1e, collH1f, collH1g, collH1g1, excA, excB, excB1, excB2, excB3, excB4,
        excC, excC1, excC1a, excC2, excC2a, strA, strB, strB1, strB2, strC, strD, strE,
        strE1, strE1a, strE3, strE4, strE5, strF, envA, envB, envB2, envB2a, envB2b, varA,
        varB, varC, varC6, varD, varE, varE1, varF, varG, varG1, varH, varH1, varH2, varH2b,
        opA, opA1, opB, opC, opC3, opD, opD1, opE, opF, opG}
        \pic at ([shift={(8pt,13pt)}]\p.south east) {fold};

\end{tikzpicture}
\end{document}
